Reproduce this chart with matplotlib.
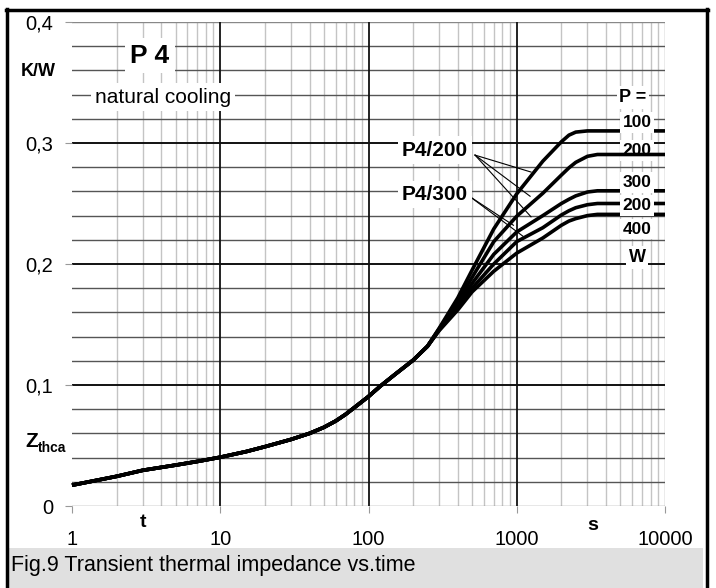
import matplotlib
matplotlib.use("Agg")
import matplotlib.pyplot as plt
from matplotlib.lines import Line2D
from matplotlib.patches import Rectangle

plt.rcParams['font.family'] = ['Liberation Sans', 'DejaVu Sans']

# shared part of all curves (t in s, Zthca in K/W)
t_common = [1, 2, 3, 5, 7, 10, 15, 20, 30, 40, 50, 60, 70, 80, 100, 120, 150, 200, 250]
z_common = [0.0172, 0.0245, 0.0295, 0.0338, 0.0368, 0.0403, 0.0450, 0.0490, 0.0550, 0.0600,
            0.0650, 0.0702, 0.0757, 0.0812, 0.0905, 0.0990, 0.1085, 0.1205, 0.1320]

# separate branches after ~250 s
t_tail = [300, 400, 500, 700, 1000, 1500, 2000, 2250, 2500, 3000, 3500, 10000]
z_100 = [0.147, 0.172, 0.195, 0.229, 0.258, 0.285, 0.301, 0.3065, 0.309, 0.310, 0.310, 0.310]
z_200 = [0.1465, 0.169, 0.189, 0.2185, 0.2395, 0.2585, 0.2735, 0.2795, 0.284, 0.289, 0.2905, 0.2905]
z_300 = [0.146, 0.166, 0.184, 0.208, 0.2265, 0.240, 0.2500, 0.2535, 0.2563, 0.2595, 0.2605, 0.2605]
z_200b = [0.1455, 0.164, 0.180, 0.200, 0.2185, 0.230, 0.2405, 0.244, 0.2465, 0.249, 0.250, 0.250]
z_400 = [0.145, 0.162, 0.177, 0.194, 0.209, 0.2215, 0.232, 0.2355, 0.2375, 0.240, 0.241, 0.241]

curves = [z_100, z_200, z_300, z_200b, z_400]
power_labels = ['100', '200', '300', '200', '400']

xticks = [1, 10, 100, 1000, 10000]
xtick_labels = ['1', '10', '100', '1000', '10000']
yticks = [0, 0.1, 0.2, 0.3, 0.4]
ytick_labels = ['0', '0,1', '0,2', '0,3', '0,4']

W, H = 716, 588


def fx(px):
    return px / W


def fy(py):
    return 1 - py / H


fig = plt.figure(figsize=(W / 100, H / 100), dpi=100)
ax = fig.add_axes([fx(72), fy(506), 593 / W, 484 / H])
ax.set_xscale('log')
ax.set_xlim(1, 10000)
ax.set_ylim(0, 0.4)
for s in ax.spines.values():
    s.set_visible(False)

# grid
for dec in [1, 10, 100, 1000]:
    for k in range(2, 10):
        ax.axvline(dec * k, color='#c4c4c4', lw=1.0, zorder=1)
for xv in [10, 100, 1000]:
    ax.axvline(xv, color='#111111', lw=1.3, zorder=1.2)
ax.axvline(10000, color='#999999', lw=1.0, zorder=1)
for i in range(21):
    yv = i * 0.02
    if i in (0, 20):
        ax.axhline(yv, color='#888888', lw=1.0, zorder=1.1)
    elif i % 5 == 0:
        ax.axhline(yv, color='#111111', lw=1.4, zorder=1.2)
    else:
        ax.axhline(yv, color='#555555', lw=1.0, zorder=1.1)

ax.set_xticks(xticks)
ax.set_xticklabels(xtick_labels)
ax.set_yticks(yticks)
ax.set_yticklabels(ytick_labels)
ax.minorticks_off()
ax.tick_params(axis='x', length=5, width=0.8, color='#999999', pad=12, labelsize=14.5)
ax.tick_params(axis='y', length=5, width=0.8, color='#999999', pad=8.5, labelsize=14.5)

# curves
for z in curves:
    ax.plot(t_common + t_tail, z_common + z, color='black', lw=2.6,
            solid_joinstyle='round', solid_capstyle='butt', zorder=3, clip_on=False)

# labels inside plot
box = dict(facecolor='white', edgecolor='none', pad=2)
ax.text(3.36, 0.372, 'P 4', ha='center', va='center', fontsize=19, weight='bold',
        bbox=dict(facecolor='white', edgecolor='none', pad=4), zorder=4)
ax.text(4.11, 0.338, 'natural cooling', ha='center', va='center', fontsize=15,
        bbox=dict(facecolor='white', edgecolor='none', pad=3), zorder=4)
ax.text(6085, 0.334, 'P =', ha='center', va='baseline', fontsize=13, weight='bold',
        bbox=box, zorder=4)

label_y = [0.3132, 0.2900, 0.2636, 0.2446, 0.2252]
label_z = [4, 2.5, 4, 4, 4]
for lab, yv, zo in zip(power_labels, label_y, label_z):
    ax.text(6475, yv, lab, ha='center', va='baseline', fontsize=12.5, weight='bold',
            bbox=box, zorder=zo)
ax.text(6475, 0.2017, 'W', ha='center', va='baseline', fontsize=13, weight='bold',
        bbox=box, zorder=4)

ax.text(281, 0.2942, 'P4/200', ha='center', va='center', fontsize=15, weight='bold',
        bbox=dict(facecolor='white', edgecolor='none', pad=3), zorder=4)
ax.text(281, 0.2574, 'P4/300', ha='center', va='center', fontsize=15, weight='bold',
        bbox=dict(facecolor='white', edgecolor='none', pad=3), zorder=4)

# leader lines
for end in [(1248, 0.276), (1230, 0.256), (1248, 0.2390)]:
    ax.plot([523, end[0]], [0.290, end[1]], color='black', lw=0.8, zorder=2.8)
for end in [(950, 0.232), (1100, 0.223)]:
    ax.plot([484, end[0]], [0.2556, end[1]], color='black', lw=0.8, zorder=2.8)

# axis labels outside the plot
fig.text(fx(38), fy(72), 'K/W', ha='center', va='center', fontsize=13, weight='bold')
fig.text(fx(25), fy(447), 'Z', ha='left', va='baseline', fontsize=15, weight='bold')
fig.text(fx(38), fy(452), 'thca', ha='left', va='baseline', fontsize=10, weight='bold')
fig.text(fx(143), fy(527), 't', ha='center', va='baseline', fontsize=14, weight='bold')
fig.text(fx(593), fy(530), 's', ha='center', va='baseline', fontsize=14, weight='bold')

# caption box and outer frame
fig.add_artist(Rectangle((fx(8.5), 0), (703 - 8.5) / W, 40 / H, transform=fig.transFigure,
                         facecolor='#e0e0e0', edgecolor='none'))
fig.text(fx(11), fy(566), 'Fig.9 Transient thermal impedance vs.time', ha='left',
         va='center', fontsize=15.5)
fig.add_artist(Line2D([fx(7), fx(7)], [0, fy(8.5)], transform=fig.transFigure,
                      color='black', lw=2.5))
fig.add_artist(Line2D([fx(5.5), fx(708)], [fy(10), fy(10)], transform=fig.transFigure,
                      color='black', lw=2.5))
fig.add_artist(Line2D([fx(706.5), fx(706.5)], [0, fy(8.5)], transform=fig.transFigure,
                      color='black', lw=2.5))

fig.savefig('out.png', dpi=100)
